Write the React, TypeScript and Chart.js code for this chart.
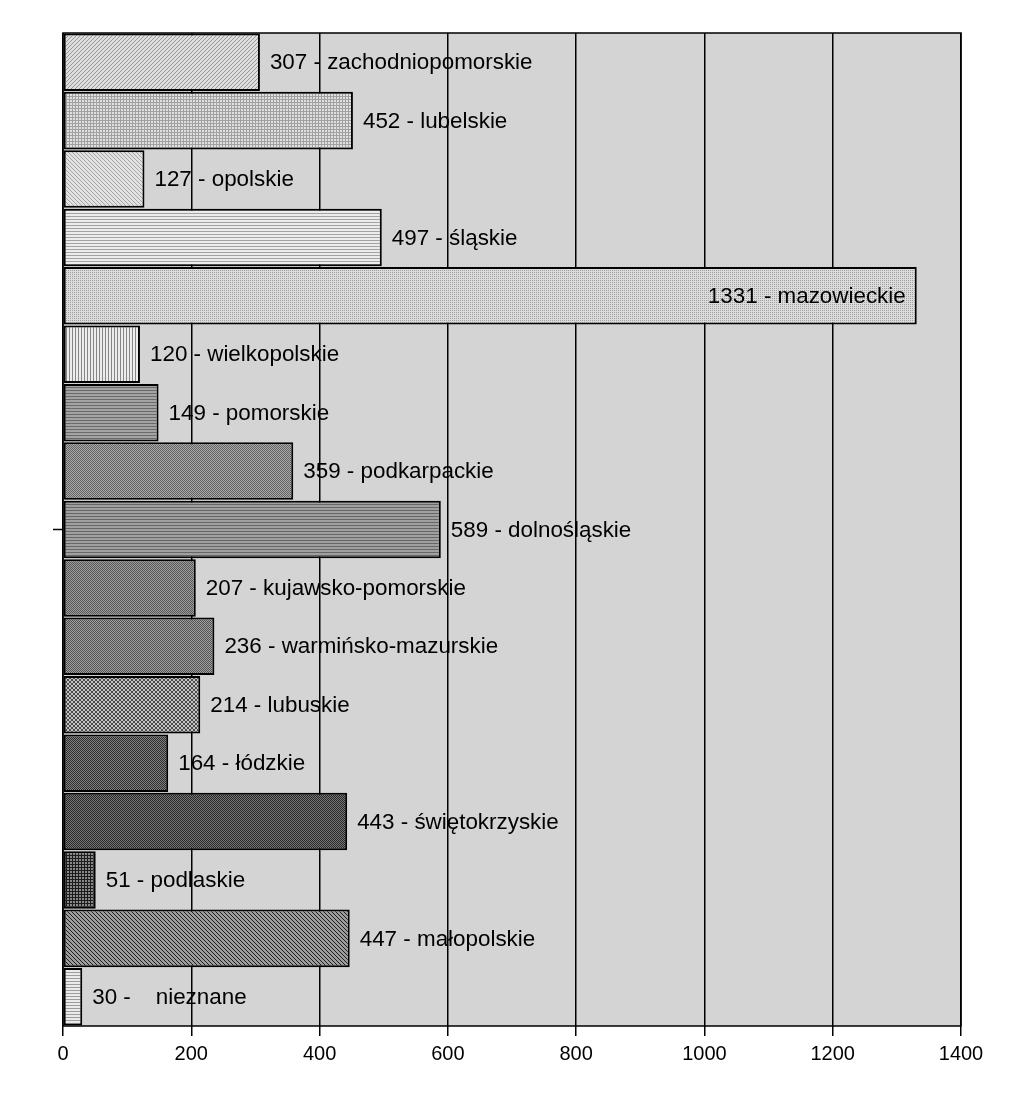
import React, { useEffect, useRef } from "react";
import { Chart, registerables } from "chart.js";

Chart.register(...registerables);

const categories = [
  "zachodniopomorskie",
  "lubelskie",
  "opolskie",
  "śląskie",
  "mazowieckie",
  "wielkopolskie",
  "pomorskie",
  "podkarpackie",
  "dolnośląskie",
  "kujawsko-pomorskie",
  "warmińsko-mazurskie",
  "lubuskie",
  "łódzkie",
  "świętokrzyskie",
  "podlaskie",
  "małopolskie",
  "nieznane",
];

const values = [307, 452, 127, 497, 1331, 120, 149, 359, 589, 207, 236, 214, 164, 443, 51, 447, 30];

const barLabels = [
  "307 - zachodniopomorskie",
  "452 - lubelskie",
  "127 - opolskie",
  "497 - śląskie",
  "1331 - mazowieckie",
  "120 - wielkopolskie",
  "149 - pomorskie",
  "359 - podkarpackie",
  "589 - dolnośląskie",
  "207 - kujawsko-pomorskie",
  "236 - warmińsko-mazurskie",
  "214 - lubuskie",
  "164 - łódzkie",
  "443 - świętokrzyskie",
  "51 - podlaskie",
  "447 - małopolskie",
  "30 -    nieznane",
];

const xTicks = [0, 200, 400, 600, 800, 1000, 1200, 1400];

// pattern kind, background, foreground
const patternSpecs: [string, string, string][] = [
  ["diagUp", "#dedede", "#969696"],
  ["grid", "#e0e0e0", "#a0a0a0"],
  ["diagDown", "#e2e2e2", "#a4a4a4"],
  ["hlines", "#ececec", "#a2a2a2"],
  ["dotsFine", "#dcdcdc", "#a0a0a0"],
  ["vlines", "#ececec", "#868686"],
  ["hlines", "#a4a4a4", "#6a6a6a"],
  ["dots", "#aaaaaa", "#626262"],
  ["hlines", "#a0a0a0", "#666666"],
  ["dots", "#9c9c9c", "#585858"],
  ["dots", "#a0a0a0", "#525252"],
  ["cross", "#c4c4c4", "#4c4c4c"],
  ["dots", "#828282", "#2c2c2c"],
  ["dots", "#767676", "#282828"],
  ["grid", "#888888", "#1c1c1c"],
  ["diagDown", "#9c9c9c", "#202020"],
  ["hlines", "#eaeaea", "#9c9c9c"],
];

function makePattern(ctx: CanvasRenderingContext2D, kind: string, bg: string, fg: string) {
  const c = document.createElement("canvas");
  let s = 4;
  if (kind === "hlines" || kind === "vlines" || kind === "grid") s = 3;
  if (kind === "dots" || kind === "dotsFine") s = 2;
  c.width = s;
  c.height = s;
  const p = c.getContext("2d")!;
  p.fillStyle = bg;
  p.fillRect(0, 0, s, s);
  p.fillStyle = fg;
  if (kind === "diagUp") {
    for (let i = 0; i < s; i++) p.fillRect(i, s - 1 - i, 1, 1);
  } else if (kind === "diagDown") {
    for (let i = 0; i < s; i++) p.fillRect(i, i, 1, 1);
  } else if (kind === "hlines") {
    p.fillRect(0, 0, s, 1);
  } else if (kind === "vlines") {
    p.fillRect(0, 0, 1, s);
  } else if (kind === "grid") {
    p.fillRect(0, 0, s, 1);
    p.fillRect(0, 0, 1, s);
  } else if (kind === "dots" || kind === "dotsFine") {
    p.fillRect(0, 0, 1, 1);
    if (kind === "dots") p.fillRect(1, 1, 1, 1);
  } else if (kind === "cross") {
    for (let i = 0; i < s; i++) {
      p.fillRect(i, i, 1, 1);
      p.fillRect(i, s - 1 - i, 1, 1);
    }
  }
  return ctx.createPattern(c, "repeat")!;
}

const FONT = "'Liberation Sans', Arial, sans-serif";

export default function App() {
  const ref = useRef<HTMLCanvasElement>(null);

  useEffect(() => {
    const canvas = ref.current!;
    const ctx = canvas.getContext("2d")!;
    const patterns = patternSpecs.map(([k, b, f]) => makePattern(ctx, k, b, f));

    const bgPlugin = {
      id: "plotBg",
      beforeDraw(chart: any) {
        const { ctx, chartArea } = chart;
        ctx.save();
        ctx.fillStyle = "#ffffff";
        ctx.fillRect(0, 0, chart.width, chart.height);
        ctx.fillStyle = "#d4d4d4";
        ctx.fillRect(chartArea.left, chartArea.top, chartArea.right - chartArea.left, chartArea.bottom - chartArea.top);
        ctx.restore();
      },
      afterDraw(chart: any) {
        const { ctx, chartArea } = chart;
        ctx.save();
        ctx.strokeStyle = "#000";
        ctx.lineWidth = 1.5;
        ctx.strokeRect(chartArea.left, chartArea.top, chartArea.right - chartArea.left, chartArea.bottom - chartArea.top);
        const midY = (chartArea.top + chartArea.bottom) / 2;
        ctx.beginPath();
        ctx.moveTo(chartArea.left - 10, midY);
        ctx.lineTo(chartArea.left, midY);
        ctx.stroke();
        ctx.restore();
      },
    };

    const labelPlugin = {
      id: "barLabels",
      afterDatasetsDraw(chart: any) {
        const { ctx } = chart;
        const meta = chart.getDatasetMeta(0);
        ctx.save();
        ctx.font = `22.4px ${FONT}`;
        ctx.fillStyle = "#000";
        ctx.textBaseline = "middle";
        meta.data.forEach((bar: any, i: number) => {
          const txt = barLabels[i];
          if (values[i] > 1000) {
            ctx.textAlign = "right";
            ctx.fillText(txt, bar.x - 11, bar.y + 1);
          } else {
            ctx.textAlign = "left";
            ctx.fillText(txt, bar.x + 10, bar.y + 1);
          }
        });
        ctx.restore();
      },
    };

    const chart = new Chart(canvas, {
      type: "bar",
      data: {
        labels: categories,
        datasets: [
          {
            data: values,
            backgroundColor: patterns as any,
            borderColor: "#000",
            borderWidth: 2,
            borderSkipped: false,
            categoryPercentage: 1,
            barPercentage: 0.985,
          },
        ],
      },
      options: {
        indexAxis: "y",
        animation: false,
        responsive: false,
        maintainAspectRatio: false,
        layout: { padding: { left: 0, top: 33, right: 63, bottom: 34 } },
        plugins: { legend: { display: false }, tooltip: { enabled: false } },
        scales: {
          x: {
            type: "linear",
            min: 0,
            max: 1400,
            afterBuildTicks(scale: any) {
              scale.ticks = xTicks.map((v) => ({ value: v }));
            },
            afterFit(scale: any) {
              scale.height = 60;
            },
            grid: {
              color: "#000",
              lineWidth: 1.5,
              drawTicks: true,
              tickLength: 10,
              tickColor: "#000",
            },
            border: { display: false },
            ticks: {
              color: "#000",
              font: { family: FONT, size: 20 },
              padding: 6,
              maxRotation: 0,
              callback: (v: any) => String(v),
            },
          },
          y: {
            type: "category",
            afterFit(scale: any) {
              scale.width = 63;
            },
            grid: { display: false },
            border: { display: false },
            ticks: { display: false },
          },
        },
      },
      plugins: [bgPlugin, labelPlugin],
    } as any);

    return () => chart.destroy();
  }, []);

  return (
    <div style={{ position: "absolute", left: 0, top: 0, width: 1024, height: 1120, background: "#fff" }}>
      <canvas ref={ref} width={1024} height={1120} style={{ display: "block" }} />
    </div>
  );
}
